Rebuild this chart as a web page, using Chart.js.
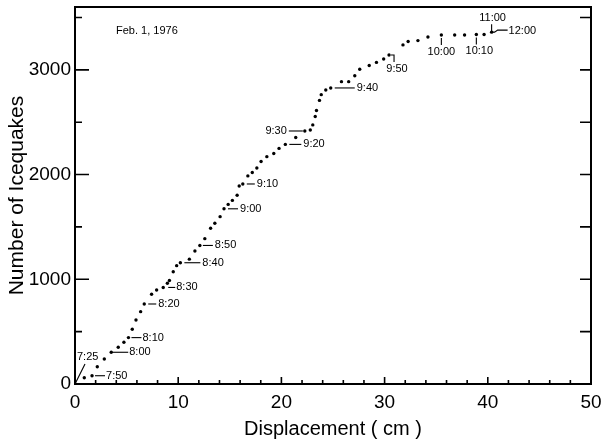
<!DOCTYPE html>
<html>
<head>
<meta charset="utf-8">
<script src="https://cdn.jsdelivr.net/npm/chart.js@4"></script>
<style>
  html, body { margin: 0; padding: 0; background: #fff; }
</style>
</head>
<body>
<canvas id="chart" width="604" height="439"></canvas>
<script>
// Cumulative icequake count vs. displacement, Feb. 1, 1976
const displacement = [
    0, 0.90, 1.65, 2.16, 2.84, 3.51, 4.19, 4.74, 5.18, 5.55,
    5.91, 6.36, 6.71, 7.42, 7.91, 8.55, 8.95, 9.15, 9.52, 9.85,
    10.21, 11.08, 11.62, 12.10, 12.58, 13.14, 13.55, 14.06, 14.44, 14.84,
    15.25, 15.71, 15.91, 16.26, 16.75, 17.18, 17.62, 18.03, 18.59, 19.26,
    19.77, 20.38, 21.39, 22.27, 22.80, 23.04, 23.28, 23.40, 23.69, 23.86,
    24.30, 24.78, 25.82, 26.52, 27.11, 27.59, 28.51, 29.21, 29.91, 30.43,
    31.78, 32.28, 33.23, 34.20, 35.50, 36.79, 37.75, 38.89, 39.64, 40.37
];
const icequakes = [
    0, 60, 79, 165, 239, 303, 351, 399, 443, 523,
    611, 691, 764, 857, 898, 922, 962, 988, 1072, 1130,
    1158, 1192, 1270, 1323, 1388, 1487, 1535, 1598, 1673, 1715,
    1753, 1803, 1891, 1910, 1987, 2020, 2063, 2125, 2171, 2201,
    2250, 2288, 2354, 2416, 2426, 2474, 2554, 2612, 2708, 2763,
    2808, 2827, 2887, 2887, 2944, 3006, 3042, 3071, 3104, 3142,
    3238, 3270, 3279, 3314, 3333, 3333, 3333, 3338, 3338, 3360
];

// time marks and the point each one belongs to
const timeText  = ['7:25', '7:50', '8:00', '8:10', '8:20', '8:30', '8:40', '8:50', '9:00',
                   '9:10', '9:20', '9:30', '9:40', '9:50', '10:00', '10:10', '11:00', '12:00'];
const timeIndex = [0, 2, 5, 8, 12, 15, 20, 23, 28, 33, 41, 43, 51, 59, 64, 67, 69, 69];

// axis ticks: all tick positions, and the labelled ones
const xTicks = [0, 2, 4, 6, 8, 10, 12, 14, 16, 18, 20, 22, 24, 26, 28, 30, 32, 34, 36, 38, 40, 42, 44, 46, 48, 50];
const xMajor = [0, 10, 20, 30, 40, 50];
const yTicks = [0, 500, 1000, 1500, 2000, 2500, 3000, 3500];
const yMajor = [0, 1000, 2000, 3000];
const dateNote = 'Feb. 1, 1976';

const FONT = "'Liberation Sans', Arial, sans-serif";

// leader line (pixel offsets from the point) and label placement
const leaders = {
    '7:25':  { path: [[0, 0], [10, -20]], tx: 2, ty: -27, align: 'left' },
    '7:50':  { path: [[3, 0], [13, 0]], tx: 14, ty: 0, align: 'left' },
    '8:00':  { path: [[0, 0], [17, 0]], tx: 18, ty: 0, align: 'left' },
    '8:10':  { path: [[3, 0], [13, 0]], tx: 14, ty: 0, align: 'left' },
    '8:20':  { path: [[4, 0], [12, 0]], tx: 14, ty: 0, align: 'left' },
    '8:30':  { path: [[5, 0], [12, 0]], tx: 13, ty: 0, align: 'left' },
    '8:40':  { path: [[4, 0], [20, 0]], tx: 22, ty: 0, align: 'left' },
    '8:50':  { path: [[3, 0], [13, 0]], tx: 15, ty: 0, align: 'left' },
    '9:00':  { path: [[4, 0], [14, 0]], tx: 16, ty: 0, align: 'left' },
    '9:10':  { path: [[4, 0], [12, 0]], tx: 14, ty: 0, align: 'left' },
    '9:20':  { path: [[4, 0], [16, 0]], tx: 18, ty: 0, align: 'left' },
    '9:30':  { path: [[-2, 0], [-16, 0]], tx: -18, ty: 0, align: 'right' },
    '9:40':  { path: [[4, 0], [24, 0]], tx: 26, ty: 0, align: 'left' },
    '9:50':  { path: [[2, 0], [5, 0], [5, 7]], tx: 8, ty: 14, align: 'center' },
    '10:00': { path: [[0, 3], [0, 10]], tx: 0, ty: 17, align: 'center' },
    '10:10': { path: [[0, 3], [0, 10]], tx: 3, ty: 17, align: 'center' },
    '11:00': { path: [[0, -1], [0, -8]], tx: 1, ty: -14, align: 'center' },
    '12:00': { path: [[0, 0], [3, 0], [6, -2], [16, -2]], tx: 17, ty: -1, align: 'left' }
};

const isMajor = (list, v) => list.some(m => Math.abs(m - v) < 1e-6);

// box around the plot with inward ticks
const frameTicks = {
    id: 'frameTicks',
    afterDraw(chart) {
        const { ctx, chartArea: a, scales: { x, y } } = chart;
        ctx.save();
        ctx.strokeStyle = '#000';
        ctx.lineWidth = 2;
        ctx.strokeRect(a.left, a.top, a.right - a.left, a.bottom - a.top);
        ctx.lineWidth = 1.6;
        ctx.beginPath();
        x.ticks.forEach(t => {
            const px = x.getPixelForValue(t.value);
            const len = isMajor(xMajor, t.value) ? 7 : 4;
            ctx.moveTo(px, a.bottom);
            ctx.lineTo(px, a.bottom - len);
        });
        y.ticks.forEach(t => {
            const py = y.getPixelForValue(t.value);
            const len = isMajor(yMajor, t.value) ? 14 : 7;
            ctx.moveTo(a.left, py);
            ctx.lineTo(a.left + len, py);
            ctx.moveTo(a.right, py);
            ctx.lineTo(a.right - 11, py);
        });
        ctx.stroke();
        ctx.restore();
    }
};

// time labels next to the points
const timeMarks = {
    id: 'timeMarks',
    afterDatasetsDraw(chart) {
        const { ctx, chartArea: a, scales: { x, y } } = chart;
        ctx.save();
        ctx.strokeStyle = '#000';
        ctx.fillStyle = '#000';
        ctx.lineWidth = 1.1;
        ctx.font = '11px ' + FONT;
        ctx.textBaseline = 'middle';
        timeText.forEach((txt, k) => {
            const i = timeIndex[k];
            const px = x.getPixelForValue(displacement[i]);
            const py = y.getPixelForValue(icequakes[i]);
            const l = leaders[txt];
            ctx.beginPath();
            l.path.forEach((p, j) => {
                if (j === 0) ctx.moveTo(px + p[0], py + p[1]);
                else ctx.lineTo(px + p[0], py + p[1]);
            });
            ctx.stroke();
            ctx.textAlign = l.align;
            ctx.fillText(txt, px + l.tx, py + l.ty);
        });
        ctx.textAlign = 'left';
        ctx.fillText(dateNote, a.left + 41, a.top + 24);
        ctx.restore();
    }
};

const ctx = document.getElementById('chart').getContext('2d');
const chart = new Chart(ctx, {
    type: 'scatter',
    data: {
        datasets: [{
            label: 'Icequakes',
            data: displacement.map((d, i) => ({ x: d, y: icequakes[i] })),
            pointRadius: 1.7,
            pointBackgroundColor: '#000',
            pointBorderWidth: 0,
            showLine: false
        }]
    },
    options: {
        responsive: false,
        animation: false,
        layout: { padding: { top: 7, right: 13, left: 0, bottom: 0 } },
        plugins: {
            legend: { display: false },
            tooltip: { enabled: false }
        },
        scales: {
            x: {
                type: 'linear',
                bounds: 'data',
                min: 0,
                max: 50,
                grid: { drawOnChartArea: false, drawTicks: false },
                border: { display: false },
                afterBuildTicks: s => { s.ticks = xTicks.map(v => ({ value: v })); },
                ticks: {
                    autoSkip: false,
                    maxRotation: 0,
                    padding: 7,
                    color: '#000',
                    font: { family: FONT, size: 19 },
                    callback: v => isMajor(xMajor, v) ? String(Math.round(v)) : ''
                },
                title: {
                    display: true,
                    text: 'Displacement ( cm )',
                    color: '#000',
                    font: { family: FONT, size: 20 },
                    padding: { top: 0, bottom: -2 }
                },
                afterFit: s => {
                    s.height = 55;
                    s.paddingLeft = 0;
                    s.paddingRight = 0;
                }
            },
            y: {
                type: 'linear',
                bounds: 'data',
                min: 0,
                max: 3600,
                grid: { drawOnChartArea: false, drawTicks: false },
                border: { display: false },
                afterBuildTicks: s => { s.ticks = yTicks.map(v => ({ value: v })); },
                ticks: {
                    autoSkip: false,
                    padding: 4,
                    color: '#000',
                    font: { family: FONT, size: 19 },
                    callback: v => isMajor(yMajor, v) ? String(Math.round(v)) : ''
                },
                title: {
                    display: true,
                    text: 'Number of Icequakes',
                    color: '#000',
                    font: { family: FONT, size: 21 },
                    padding: { top: 5, bottom: 0 }
                },
                afterFit: s => {
                    s.width = 75;
                    s.paddingTop = 0;
                    s.paddingBottom = 0;
                }
            }
        }
    },
    plugins: [frameTicks, timeMarks]
});
</script>
</body>
</html>
